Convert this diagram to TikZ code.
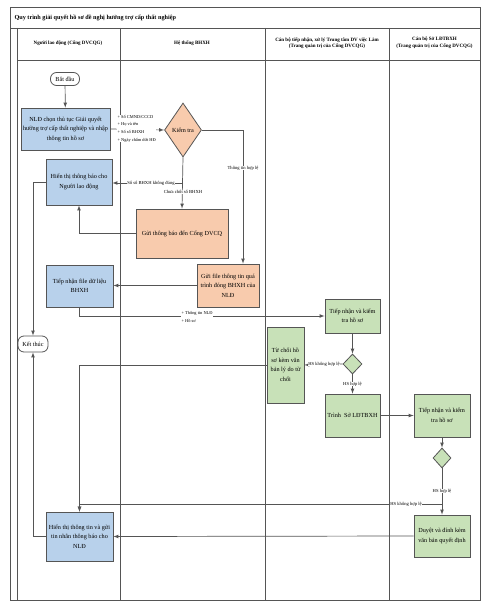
\documentclass[tikz,border=0pt]{standalone}
\usepackage{fontspec}
\setmainfont{Liberation Serif}
\usepackage{tikz}
\usetikzlibrary{shapes.geometric,arrows}
\definecolor{boxblue}{RGB}{184,209,235}
\definecolor{boxorange}{RGB}{248,203,173}
\definecolor{boxgreen}{RGB}{200,225,184}
\definecolor{linegray}{RGB}{85,85,85}

\begin{document}
\begin{tikzpicture}[x=1pt,y=-1pt,
  lane/.style={draw=linegray,line width=0.8pt},
  box/.style={draw=linegray,line width=0.8pt,align=center,inner sep=0.5pt,
    font=\fontsize{6.2}{9.5}\selectfont},
  bluebox/.style={box,fill=boxblue},
  orangebox/.style={box,fill=boxorange},
  greenbox/.style={box,fill=boxgreen},
  term/.style={box,fill=white,rounded corners=6pt},
  decide/.style={diamond,draw=linegray,line width=0.8pt,inner sep=0pt,
    font=\fontsize{6.2}{8}\selectfont},
  flow/.style={draw=linegray,line width=0.7pt,-latex},
  lbl/.style={font=\fontsize{4.6}{5.6}\selectfont,fill=white,inner sep=0.4pt},
  head/.style={font=\fontsize{5}{6.5}\selectfont\bfseries,align=center}]
\useasboundingbox (0,0) rectangle (493,609);
% frame and lanes
\draw[lane] (10,7) rectangle (480,600);
\draw[lane] (10,28) -- (480,28);
\draw[lane] (17,28) -- (17,600);
\draw[lane] (17,60) -- (480,60);
\draw[lane] (120,28) -- (120,600);
\draw[lane] (265,28) -- (265,600);
\draw[lane] (389,28) -- (389,600);
\node[anchor=west,font=\fontsize{6.2}{7}\selectfont\bfseries] (title) at (11,18)
  {Quy trình giải quyết hồ sơ đề nghị hưởng trợ cấp thất nghiệp};
\node[head] (h1) at (68,43) {Người lao động (Cổng DVCQG)};
\node[head] (h2) at (192,43) {Hệ thống BHXH};
\node[head] (h3) at (327,43) {Cán bộ tiếp nhận, xử lý Trung tâm DV việc Làm\\(Trang quản trị của Cổng DVCQG)};
\node[head] (h4) at (434.5,43) {Cán bộ Sở LĐTBXH\\(Trang quản trị của Cổng DVCQG)};

% nodes
\node[term,minimum width=29pt,minimum height=13pt] (start) at (65,79) {Bắt đầu};
\node[bluebox,minimum width=89pt,minimum height=42pt] (chon) at (65.5,129)
  {NLĐ chọn thủ tục Giải quyết\\hưởng trợ cấp thất nghiệp và nhập\\thông tin hồ sơ};
\node[bluebox,minimum width=66pt,minimum height=46pt] (hienTB) at (79,182)
  {Hiển thị thông báo cho\\Người lao động};
\node[decide,fill=boxorange,minimum width=37pt,minimum height=54pt] (kiemtra) at (183,130) {Kiểm tra};
\node[orangebox,minimum width=92pt,minimum height=49pt] (guiTB) at (182,233.5) {Gửi thông báo đến Cổng DVCQ};
\node[orangebox,minimum width=62pt,minimum height=43pt] (guiFile) at (228,285.5)
  {Gửi file thông tin quá\\trình đóng BHXH của\\NLĐ};
\node[bluebox,minimum width=67pt,minimum height=42pt] (tnFile) at (79.5,286)
  {Tiếp nhận file dữ liệu\\BHXH};
\node[term,minimum width=30pt,minimum height=16pt] (ketthuc) at (33,344) {Kết thúc};
\node[greenbox,minimum width=55pt,minimum height=34pt] (tnHS) at (352.5,316)
  {Tiếp nhận và kiểm\\tra hồ sơ};
\node[decide,fill=boxgreen,minimum width=19pt,minimum height=20pt] (d3) at (352.5,364) {};
\node[greenbox,minimum width=37pt,minimum height=76pt] (tuchoi) at (285.5,365)
  {Từ chối hồ\\sơ kèm văn\\bản lý do từ\\chối};
\node[greenbox,minimum width=55pt,minimum height=43pt] (trinh) at (352.5,415.5) {Trình\ \ Sở LĐTBXH};
\node[greenbox,minimum width=56pt,minimum height=43pt] (tnHS4) at (442,415.5)
  {Tiếp nhận và kiểm\\tra hồ sơ};
\node[decide,fill=boxgreen,minimum width=18pt,minimum height=20pt] (d4) at (442,458) {};
\node[greenbox,minimum width=56pt,minimum height=42pt] (duyet) at (442,536)
  {Duyệt và đính kèm\\văn bản quyết định};
\node[bluebox,minimum width=67pt,minimum height=49pt] (hienTT) at (79.5,536.5)
  {Hiển thị thông tin và gửi\\tin nhắn thông báo cho\\NLĐ};
\coordinate (split2) at (183,183);
\coordinate (split4) at (442,504);

% connectors
\draw[flow] (start) -- (chon);
\draw[flow] (chon.east) -- (kiemtra.west);
\draw[flow] (kiemtra.south) -- (guiTB.north);
\draw[flow] (split2) -- (split2 -| hienTB.east);
\draw[flow] (guiTB.west) -| (hienTB.south);
\draw[flow] (kiemtra.east) -| ([xshift=15pt]guiFile.north);
\draw[flow] (guiFile.west) -- (guiFile.west -| tnFile.east);
\draw[flow] (tnFile.south) |- (tnHS.west);
\draw[flow] (tnHS) -- (d3);
\draw[flow] (d3.west) -- (tuchoi.east);
\draw[flow] (d3.south) -- (trinh.north);
\draw[flow] (tuchoi.west) -| (hienTT.north);
\draw[flow] (trinh.east) -- (tnHS4.west);
\draw[flow] (tnHS4) -- (d4);
\draw[flow] (d4.south) -- (duyet.north);
\draw[flow] (split4) -| (hienTT.north);
\draw[flow] (duyet.west) -- (hienTT.east);
\draw[flow] (hienTB.west) -| (ketthuc.north);
\draw[flow] (hienTT.west) -| (ketthuc.south);

% labels
\node[lbl,anchor=west,align=left,font=\fontsize{4.4}{7.6}\selectfont] (ttin) at (117,128.5)
  {+ Số CMND/CCCD\\+ Họ và tên\\+ Số sổ BHXH\\+ Ngày chấm dứt HĐ};
\node[lbl] (sosai) at (151,183) {Số sổ BHXH không đúng};
\node[lbl] (chuachot) at (183,192) {Chưa chốt sổ BHXH};
\node[lbl] (hople) at (243,168) {Thông tin hợp lệ};
\node[lbl,anchor=west,align=left,font=\fontsize{4.4}{7.6}\selectfont] (hoso) at (181,317)
  {+ Thông tin NLĐ\\+ Hồ sơ};
\node[lbl] (khong3) at (324,364) {HS không hợp lệ};
\node[lbl] (hop3) at (352.5,384) {HS hợp lệ};
\node[lbl] (hop4) at (442,491) {HS hợp lệ};
\node[lbl] (khong4) at (406,504) {HS không hợp lệ};
\end{tikzpicture}
\end{document}
